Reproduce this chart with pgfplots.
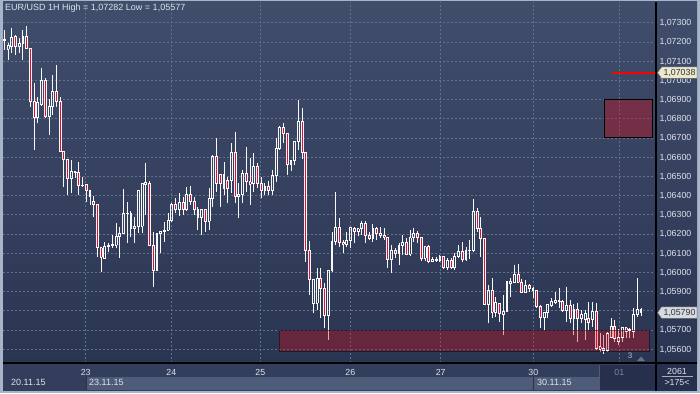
\documentclass[border=0pt]{standalone}
\usepackage{pgfplots}
\pgfplotsset{compat=1.18}
\usepackage{pgfplotstable}
\usepackage{fontspec}
\setmainfont{Liberation Sans}
\pgfdeclarelayer{bg}
\pgfsetlayers{bg,main}
\definecolor{bgtop}{RGB}{64,77,107}
\definecolor{bgbot}{RGB}{42,53,82}
\definecolor{gridc}{RGB}{98,113,143}
\definecolor{framec}{RGB}{168,180,200}
\definecolor{panel}{RGB}{50,62,92}
\definecolor{band}{RGB}{78,92,122}
\definecolor{darkp}{RGB}{38,48,76}
\definecolor{txt}{RGB}{222,228,238}
\definecolor{dimtxt}{RGB}{120,135,165}
\definecolor{bear}{RGB}{228,12,50}
\definecolor{zone}{RGB}{225,8,20}
\definecolor{candle}{RGB}{248,248,248}
\definecolor{ybox}{RGB}{236,232,205}
\definecolor{gbox}{RGB}{215,218,225}

\pgfplotstableread{
o h l c
1.07210 1.07262 1.07158 1.07212
1.07161 1.07193 1.07106 1.07184
1.07179 1.07271 1.07141 1.07224
1.07227 1.07236 1.07132 1.07175
1.07175 1.07219 1.07141 1.07193
1.07193 1.07262 1.07106 1.07231
1.07231 1.07282 1.07167 1.07167
1.07167 1.07167 1.06863 1.06889
1.06892 1.06988 1.06637 1.06805
1.06805 1.06915 1.06776 1.06883
1.06875 1.07063 1.06866 1.06998
1.06998 1.07012 1.06804 1.06810
1.06810 1.06901 1.06715 1.06866
1.06866 1.07028 1.06819 1.06941
1.06941 1.07080 1.06863 1.06889
1.06889 1.06915 1.06628 1.06628
1.06628 1.06628 1.06446 1.06589
1.06589 1.06589 1.06403 1.06490
1.06490 1.06585 1.06411 1.06524
1.06524 1.06528 1.06491 1.06520
1.06519 1.06576 1.06403 1.06450
1.06450 1.06498 1.06446 1.06455
1.06458 1.06458 1.06368 1.06425
1.06425 1.06429 1.06351 1.06397
1.06371 1.06397 1.06286 1.06351
1.06351 1.06351 1.06081 1.06128
1.06128 1.06128 1.06003 1.06078
1.06073 1.06159 1.06073 1.06133
1.06133 1.06151 1.06107 1.06142
1.06140 1.06194 1.06127 1.06145
1.06142 1.06255 1.06125 1.06189
1.06189 1.06238 1.06073 1.06203
1.06203 1.06432 1.06203 1.06307
1.06306 1.06368 1.06151 1.06308
1.06307 1.06319 1.06182 1.06229
1.06241 1.06290 1.06151 1.06229
1.06241 1.06429 1.06203 1.06429
1.06241 1.06467 1.06203 1.06464
1.06460 1.06568 1.06298 1.06467
1.06464 1.06476 1.06142 1.06142
1.06142 1.06211 1.05925 1.06012
1.06012 1.06203 1.06012 1.06203
1.06203 1.06211 1.06099 1.06211
1.06211 1.06264 1.06159 1.06220
1.06220 1.06307 1.06220 1.06272
1.06272 1.06359 1.06264 1.06351
1.06351 1.06385 1.06307 1.06325
1.06325 1.06411 1.06295 1.06365
1.06365 1.06394 1.06298 1.06325
1.06325 1.06446 1.06319 1.06406
1.06406 1.06451 1.06351 1.06371
1.06371 1.06394 1.06298 1.06325
1.06325 1.06342 1.06220 1.06284
1.06284 1.06325 1.06194 1.06325
1.06325 1.06325 1.06211 1.06267
1.06267 1.06438 1.06220 1.06385
1.06385 1.06611 1.06342 1.06602
1.06602 1.06698 1.06420 1.06464
1.06510 1.06510 1.06342 1.06464
1.06438 1.06576 1.06403 1.06510
1.06476 1.06498 1.06359 1.06438
1.06476 1.06672 1.06411 1.06625
1.06625 1.06729 1.06359 1.06397
1.06397 1.06464 1.06281 1.06403
1.06403 1.06533 1.06359 1.06516
1.06516 1.06654 1.06420 1.06472
1.06472 1.06594 1.06351 1.06458
1.06464 1.06620 1.06420 1.06550
1.06550 1.06568 1.06438 1.06464
1.06464 1.06498 1.06385 1.06429
1.06429 1.06464 1.06403 1.06446
1.06446 1.06476 1.06403 1.06429
1.06429 1.06533 1.06403 1.06502
1.06502 1.06698 1.06472 1.06646
1.06646 1.06764 1.06637 1.06755
1.06755 1.06776 1.06672 1.06724
1.06724 1.06724 1.06507 1.06563
1.06563 1.06585 1.06528 1.06585
1.06585 1.06680 1.06559 1.06680
1.06680 1.06897 1.06637 1.06788
1.06788 1.06857 1.06590 1.06625
1.06625 1.06625 1.06055 1.06116
1.06116 1.06163 1.05882 1.05964
1.05839 1.05964 1.05786 1.05964
1.05839 1.06021 1.05804 1.05969
1.05969 1.06021 1.05760 1.05917
1.05917 1.05946 1.05708 1.05774
1.05774 1.06012 1.05647 1.06012
1.06012 1.06211 1.06003 1.06163
1.06163 1.06420 1.06142 1.06232
1.06232 1.06281 1.06133 1.06156
1.06156 1.06168 1.06099 1.06146
1.06146 1.06211 1.06133 1.06168
1.06168 1.06238 1.06125 1.06232
1.06229 1.06238 1.06151 1.06211
1.06211 1.06230 1.06189 1.06226
1.06226 1.06267 1.06194 1.06255
1.06255 1.06267 1.06151 1.06194
1.06194 1.06211 1.06168 1.06177
1.06177 1.06250 1.06159 1.06226
1.06226 1.06238 1.06168 1.06203
1.06203 1.06238 1.06177 1.06194
1.06194 1.06232 1.06168 1.06182
1.06182 1.06182 1.06024 1.06069
1.06069 1.06142 1.05995 1.06116
1.06116 1.06125 1.06073 1.06099
1.06099 1.06151 1.06038 1.06142
1.06142 1.06194 1.06090 1.06156
1.06156 1.06177 1.06090 1.06094
1.06094 1.06220 1.06086 1.06180
1.06180 1.06232 1.06159 1.06203
1.06203 1.06215 1.06151 1.06180
1.06180 1.06185 1.06059 1.06073
1.06073 1.06139 1.06059 1.06133
1.06133 1.06142 1.06047 1.06055
1.06059 1.06081 1.06052 1.06069
1.06069 1.06080 1.06054 1.06064
1.06064 1.06090 1.06055 1.06081
1.06081 1.06081 1.06017 1.06024
1.06024 1.06073 1.06012 1.06064
1.06064 1.06073 1.06017 1.06024
1.06024 1.06099 1.06012 1.06085
1.06085 1.06142 1.06073 1.06111
1.06111 1.06159 1.06055 1.06069
1.06069 1.06133 1.06059 1.06116
1.06114 1.06168 1.06069 1.06116
1.06116 1.06382 1.06104 1.06319
1.06319 1.06333 1.06211 1.06226
1.06226 1.06290 1.06081 1.06177
1.06177 1.06177 1.05833 1.05833
1.05833 1.05934 1.05734 1.05908
1.05908 1.05972 1.05760 1.05792
1.05792 1.05873 1.05769 1.05844
1.05839 1.05839 1.05743 1.05786
1.05781 1.05882 1.05673 1.05795
1.05795 1.05951 1.05795 1.05951
1.05943 1.05969 1.05873 1.05951
1.05948 1.06038 1.05943 1.05990
1.05990 1.06042 1.05943 1.05948
1.05948 1.05965 1.05896 1.05896
1.05896 1.05960 1.05896 1.05934
1.05934 1.05938 1.05899 1.05917
1.05917 1.05925 1.05865 1.05903
1.05903 1.05903 1.05813 1.05821
1.05821 1.05830 1.05711 1.05764
1.05764 1.05792 1.05700 1.05792
1.05792 1.05833 1.05760 1.05833
1.05830 1.05868 1.05821 1.05847
1.05844 1.05896 1.05833 1.05851
1.05847 1.05917 1.05816 1.05851
1.05847 1.05857 1.05795 1.05804
1.05804 1.05925 1.05743 1.05830
1.05830 1.05857 1.05734 1.05760
1.05760 1.05833 1.05673 1.05809
1.05809 1.05839 1.05639 1.05760
1.05760 1.05804 1.05734 1.05778
1.05752 1.05804 1.05647 1.05786
1.05760 1.05847 1.05700 1.05738
1.05752 1.05847 1.05717 1.05795
1.05795 1.05839 1.05595 1.05604
1.05613 1.05682 1.05586 1.05599
1.05595 1.05673 1.05577 1.05604
1.05595 1.05691 1.05586 1.05682
1.05662 1.05760 1.05656 1.05717
1.05717 1.05752 1.05639 1.05656
1.05639 1.05703 1.05621 1.05662
1.05662 1.05717 1.05639 1.05711
1.05711 1.05717 1.05656 1.05691
1.05700 1.05710 1.05658 1.05697
1.05691 1.05813 1.05656 1.05778
1.05778 1.05969 1.05769 1.05807
1.05807 1.05813 1.05772 1.05790
}\candles

\pgfplotsset{
  errbar/.style 2 args={draw=none, mark=none, forget plot,
    error bars/.cd, y dir=plus, y explicit, error mark=none,
    error bar style={draw=#1, line width=#2, solid}},
}

\begin{document}
\begin{tikzpicture}[x=1pt,y=1pt]
\begin{axis}[
  name=ax,
  at={(0,0)}, anchor=south west,
  scale only axis, width=653pt, height=361pt,
  xmin=-0.35, xmax=175.05, ymin=1.055276, ymax=1.074078,
  axis line style={draw=none},
  tick style={draw=none}, major tick length=0pt,
  xtick={21.86,44.86,68.76,92.94,117.22,142.09,165.19},
  xticklabels={23,24,25,26,27,30,{\textcolor{dimtxt}{01}}},
  ytick={1.056,1.057,1.058,1.059,1.060,1.061,1.062,1.063,1.064,1.065,1.066,1.067,1.068,1.069,1.070,1.071,1.072,1.073},
  yticklabels={{1,05600},{1,05700},{1,05800},{1,05900},{1,06000},{1,06100},{1,06200},{1,06300},{1,06400},{1,06500},{1,06600},{1,06700},{1,06800},{1,06900},{1,07000},{1,07100},{1,07200},{1,07300}},
  scaled y ticks=false,
  yticklabel pos=right,
  xmajorgrids, ymajorgrids,
  grid style={gridc, line width=0.6pt, dash pattern=on 2pt off 2pt},
  ticklabel style={font=\fontsize{8.8}{10}\selectfont, text=txt, inner sep=0pt},
  xticklabel style={anchor=center, yshift=-9pt},
  yticklabel style={anchor=west, xshift=3.3pt, text depth=0pt},
]
% bear body fill
\addplot[errbar={bear}{1.5pt}]
  table[x expr=\coordindex, y=c, y error plus expr={max(\thisrow{o}-\thisrow{c},0)}] {\candles};
% body edges
\addplot[errbar={candle}{0.85pt}]
  table[x expr=\coordindex-0.255, y expr={min(\thisrow{o},\thisrow{c})}, y error plus expr={abs(\thisrow{o}-\thisrow{c})}] {\candles};
\addplot[errbar={candle}{0.85pt}]
  table[x expr=\coordindex+0.255, y expr={min(\thisrow{o},\thisrow{c})}, y error plus expr={abs(\thisrow{o}-\thisrow{c})}] {\candles};
% caps
\addplot[draw=none, mark=-, mark size=1.375pt, mark options={draw=candle, line width=0.85pt, solid}, forget plot]
  table[x expr=\coordindex, y=o] {\candles};
\addplot[draw=none, mark=-, mark size=1.375pt, mark options={draw=candle, line width=0.85pt, solid}, forget plot]
  table[x expr=\coordindex, y=c] {\candles};
% wicks
\addplot[errbar={candle}{0.85pt}]
  table[x expr=\coordindex, y=l, y error plus expr={min(\thisrow{o},\thisrow{c})-\thisrow{l}}] {\candles};
\addplot[errbar={candle}{0.85pt}]
  table[x expr=\coordindex, y expr={max(\thisrow{o},\thisrow{c})}, y error plus expr={\thisrow{h}-max(\thisrow{o},\thisrow{c})}] {\candles};
% zones
\fill[zone, fill opacity=0.35] (161.2,1.067) rectangle (174.05,1.069);
\draw[black, line width=0.8pt] (161.2,1.067) rectangle (174.05,1.069);
\fill[zone, fill opacity=0.33] (73.87,1.0559) rectangle (173.25,1.057);
\draw[black, line width=0.6pt, opacity=0.45] (73.87,1.0559) rectangle (173.25,1.057);
% level line
\addplot[draw=red, line width=1.3pt, forget plot] coordinates {(163.1,1.07038) (175.05,1.07038)};
\end{axis}

% everything else relative to the axis box: image pixel (px,py) -> (px, 393-py)
\begin{scope}[shift={(ax.south west)}, xshift=-3pt, yshift=-30pt]
\begin{pgfonlayer}{bg}
\fill[framec] (0,0) rectangle (700,393);
\shade[top color=bgtop, bottom color=bgbot] (3,30) rectangle (697,391);
\fill[panel] (3,2) rectangle (697,30);
\fill[band] (86,3) rectangle (599,16);
\draw[panel!80!black, line width=0.8pt] (86,3) -- (86,16);
\draw[panel!80!black, line width=0.8pt] (533,3) -- (533,16);
\fill[darkp] (599,3) rectangle (656,28);
\draw[band, line width=0.6pt] (599.3,3) -- (599.3,28);
\fill[darkp] (656,2) rectangle (697,30);
\end{pgfonlayer}

% borders
\draw[black, line width=1.5pt] (656,2) -- (656,391);
\draw[black, line width=1.5pt] (3,30) -- (697,30);

% title
\node[anchor=west, text=txt, font=\fontsize{9}{10}\selectfont, inner sep=0pt] at (5,384.7) {EUR/USD 1H High = 1,07282 Low = 1,05577};

% price boxes
\fill[ybox, draw=gray!70!black, line width=0.4pt] (657.5,320.3) -- (661.5,326) -- (697,326) -- (697,314.6) -- (661.5,314.6) -- cycle;
\node[text=black!80, font=\fontsize{8.8}{10}\selectfont, inner sep=0pt, text depth=0pt] at (679.5,320.3) {1,07038};
\fill[gbox, draw=gray!70!black, line width=0.4pt] (657.5,80.4) -- (661.5,86.1) -- (697,86.1) -- (697,74.7) -- (661.5,74.7) -- cycle;
\node[text=black!80, font=\fontsize{8.8}{10}\selectfont, inner sep=0pt, text depth=0pt] at (679.5,80.4) {1,05790};

% bottom texts
\node[anchor=west, text=txt, font=\fontsize{9}{10}\selectfont, inner sep=0pt] at (11,10.2) {20.11.15};
\node[anchor=west, text=txt, font=\fontsize{9}{10}\selectfont, inner sep=0pt] at (89,10.2) {23.11.15};
\node[anchor=west, text=txt, font=\fontsize{9}{10}\selectfont, inner sep=0pt] at (537,10.2) {30.11.15};
\node[text=txt, font=\fontsize{8.8}{10}\selectfont, inner sep=0pt] at (677,21.5) {2061};
\draw[txt!70!darkp, line width=0.6pt] (662,16.3) -- (693,16.3);
\node[text=txt, font=\fontsize{8.8}{10}\selectfont, inner sep=0pt] at (677,10) {>175<};

% small marker
\node[text=txt!80!darkp, font=\fontsize{8}{9}\selectfont, inner sep=0pt] at (630,37) {3};
\fill[gridc] (637,32) -- (645,32) -- (641,36.5) -- cycle;
\end{scope}
\end{tikzpicture}
\end{document}
